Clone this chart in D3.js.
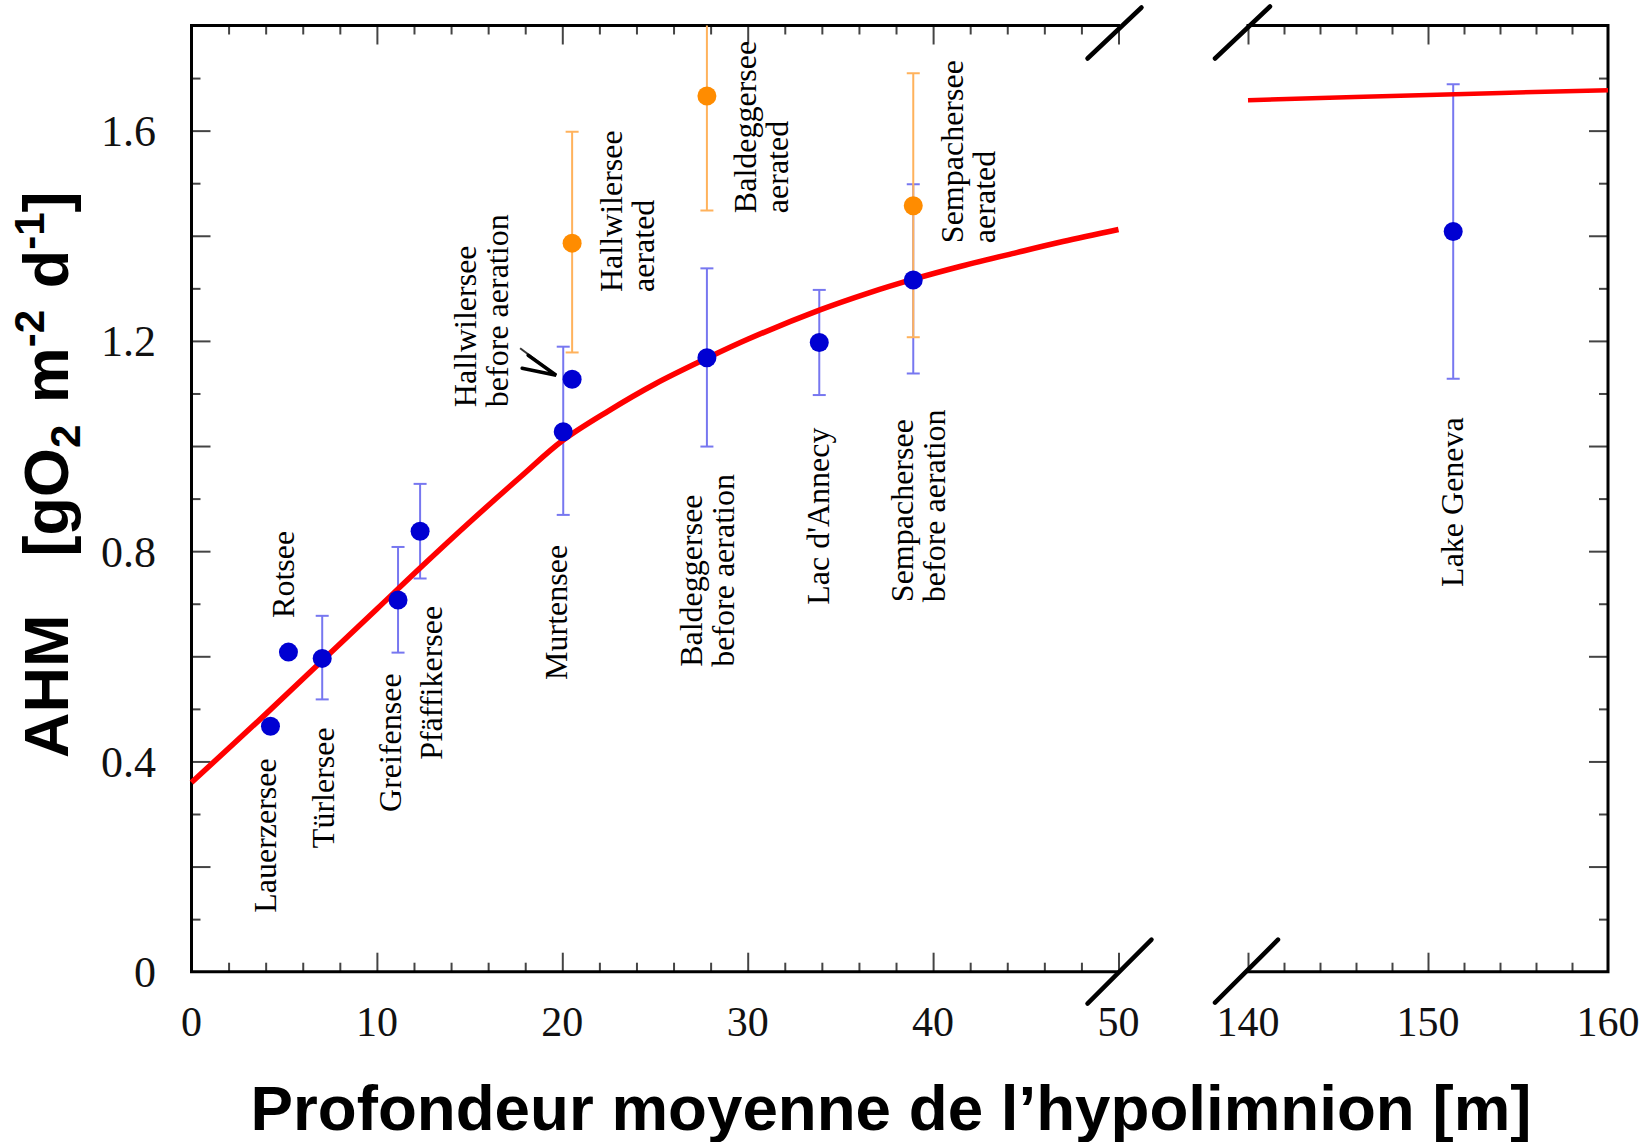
<!DOCTYPE html>
<html><head><meta charset="utf-8">
<script src="https://cdn.jsdelivr.net/npm/d3@7"></script>
<style>html,body{margin:0;padding:0;background:#fff} svg{display:block}</style>
</head><body>
<svg id="chart" width="1650" height="1142"></svg>
<script>
// ---------- data ----------
// lakes before aeration (blue)
const beforeNames = ["Lauerzersee","Rotsee","Türlersee","Greifensee","Pfäffikersee","Murtensee","Hallwilersee","Baldeggersee","Lac d'Annecy","Sempachersee","Lake Geneva"];
const beforeDepth = [4.26, 5.23, 7.05, 11.14, 12.33, 20.05, 20.53, 27.8, 33.86, 38.93, 151.4];
const beforeAHM   = [0.467, 0.608, 0.596, 0.707, 0.838, 1.027, 1.127, 1.168, 1.197, 1.316, 1.408];
const beforeLow   = [null, null, 0.518, 0.607, 0.748, 0.869, null, 0.999, 1.097, 1.138, 1.128];
const beforeHigh  = [null, null, 0.677, 0.808, 0.928, 1.189, null, 1.338, 1.297, 1.498, 1.688];
// aerated lakes (orange)
const aeratedNames = ["Hallwilersee","Baldeggersee","Sempachersee"];
const aeratedDepth = [20.53, 27.8, 38.93];
const aeratedAHM   = [1.386, 1.666, 1.457];
const aeratedLow   = [1.178, 1.448, 1.207];
const aeratedHigh  = [1.598, 1.88, 1.709];
// fitted curve (red), left panel and right panel
const curveDepthLeft = [0, 4, 7, 10, 12.3, 15, 17.8, 20, 22.5, 25, 27.8, 30, 33.9, 36.5, 38.9, 41.5, 44.5, 47, 50];
const curveAHMLeft   = [0.36, 0.49, 0.59, 0.69, 0.767, 0.855, 0.943, 1.01, 1.067, 1.118, 1.167, 1.203, 1.259, 1.291, 1.317, 1.342, 1.368, 1.389, 1.412];
const curveDepthRight = [140, 150, 160];
const curveAHMRight   = [1.658, 1.668, 1.677];
// tick labels
const xLeftTickLabels  = [0, 10, 20, 30, 40, 50];
const xRightTickLabels = [140, 150, 160];
const yTickLabels = [0, 0.4, 0.8, 1.2, 1.6];
// point labels (rotated): text lines, depth / AHM of the start of the first line
const labelLines = [["Lauerzersee"],["Rotsee"],["Türlersee"],["Greifensee"],["Pfäffikersee"],["Murtensee"],
  ["Baldeggersee","before aeration"],["Lac d'Annecy"],["Sempachersee","before aeration"],
  ["Hallwilersee","before aeration"],["Hallwilersee","aerated"],["Baldeggersee","aerated"],["Sempachersee","aerated"],["Lake Geneva"]];
const labelDepth = [4.56, 5.53, 7.66, 11.30, 13.51, 20.25, 27.53, 34.39, 38.91, 15.35, 23.22, 30.45, 41.61, 151.94];
const labelAHM   = [0.112, 0.673, 0.235, 0.304, 0.403, 0.555, 0.580, 0.698, 0.703, 1.074, 1.293, 1.443, 1.386, 0.732];

// ---------- layout ----------
const svg = d3.select("#chart");
const yTop = 25.5, yBot = 971.7;
const y  = d3.scaleLinear().domain([0, 1.8]).range([yBot, yTop]);
const xL = d3.scaleLinear().domain([0, 50]).range([191.5, 1118.5]);
const xR = d3.scaleLinear().domain([140, 160]).range([1248, 1608]);
const xAny = v => v >= 100 ? xR(v) : xL(v);

const defs = svg.append("defs");
defs.append("clipPath").attr("id","clipL").append("rect")
  .attr("x", xL(0)).attr("y", yTop).attr("width", xL(50)-xL(0)).attr("height", yBot-yTop);
defs.append("clipPath").attr("id","clipR").append("rect")
  .attr("x", xR(140)).attr("y", yTop).attr("width", xR(160)-xR(140)).attr("height", yBot-yTop);

const serif = "'Liberation Serif','Times New Roman',serif";
const sans = "'Liberation Sans',Arial,sans-serif";

// ---------- ticks ----------
const tickCol = "#444";
function xTicks(scale, vals, major){
  ["bottom","top"].forEach(side=>{
    const gen = side==="bottom" ? d3.axisBottom(scale) : d3.axisTop(scale);
    const g = svg.append("g").attr("transform", `translate(0,${side==="bottom"?yBot:yTop})`)
      .call(gen.tickValues(vals).tickFormat("").tickSizeOuter(0).tickSize(0));
    g.select(".domain").remove();
    g.selectAll(".tick line")
      .attr("y2", d => (side==="bottom"?-1:1) * (major(d) ? 19 : 9))
      .attr("stroke", tickCol).attr("stroke-width", 2);
  });
}
xTicks(xL, d3.range(2, 51, 2), d => d % 10 === 0);
xTicks(xR, d3.range(140, 160, 2), d => d % 10 === 0);
const yTickVals = d3.range(1, 18).map(i => i/10);
[["left", xL(0)], ["right", xR(160)]].forEach(([side, xp])=>{
  const gen = side==="left" ? d3.axisLeft(y) : d3.axisRight(y);
  const g = svg.append("g").attr("transform", `translate(${xp},0)`)
    .call(gen.tickValues(yTickVals).tickFormat("").tickSize(0));
  g.select(".domain").remove();
  g.selectAll(".tick line")
    .attr("x2", d => (side==="left"?1:-1) * (Math.round(d*10) % 2 === 0 ? 19 : 9))
    .attr("stroke", tickCol).attr("stroke-width", 2);
});

// ---------- frame ----------
const frame = svg.append("g").attr("stroke","#000").attr("stroke-width",3).attr("fill","none").attr("stroke-linecap","square");
frame.append("path").attr("d", `M${xL(50)},${yTop} H${xL(0)} V${yBot} H${xL(50)}`);
frame.append("path").attr("d", `M${xR(140)},${yTop} H${xR(160)} V${yBot} H${xR(140)}`);
// break marks
const brk = svg.append("g").attr("stroke","#000").attr("stroke-width",4.5).attr("stroke-linecap","round");
[[xL(50), yTop, -31, 33, 23, -18], [xL(50), yBot, -31, 32, 33, -32],
 [xR(140), yTop, -33, 33, 22, -19], [xR(140), yBot, -33, 31, 30, -32]].forEach(([cx, cy, ax, ay, bx, by])=>{
  brk.append("line").attr("x1", cx+ax).attr("y1", cy+ay).attr("x2", cx+bx).attr("y2", cy+by);
});

// ---------- tick labels ----------
const tl = svg.append("g").attr("font-family", serif).attr("fill","#111");
xLeftTickLabels.forEach(v => tl.append("text").attr("font-size", 42).attr("x", xL(v)).attr("y", 1036).attr("text-anchor","middle").text(v));
xRightTickLabels.forEach(v => tl.append("text").attr("font-size", 42).attr("x", xR(v)).attr("y", 1036).attr("text-anchor","middle").text(v));
yTickLabels.forEach(v => tl.append("text").attr("font-size", 44).attr("x", 156).attr("y", y(v)).attr("dy","0.35em").attr("text-anchor","end").text(v===0?"0":v.toFixed(1)));

// ---------- error bars ----------
function errorBars(xs, lows, highs, color){
  const g = svg.append("g").attr("stroke", color).attr("stroke-width", 2).attr("fill","none");
  xs.forEach((xv, i) => {
    if (lows[i] == null) return;
    const px = xAny(xv);
    const gg = g.append("g").attr("clip-path", xv >= 100 ? "url(#clipR)" : "url(#clipL)");
    gg.append("line").attr("x1", px).attr("x2", px).attr("y1", y(lows[i])).attr("y2", y(highs[i]));
    gg.append("line").attr("x1", px-6.5).attr("x2", px+6.5).attr("y1", y(lows[i])).attr("y2", y(lows[i]));
    gg.append("line").attr("x1", px-6.5).attr("x2", px+6.5).attr("y1", y(highs[i])).attr("y2", y(highs[i]));
  });
}
errorBars(beforeDepth, beforeLow, beforeHigh, "#7777f0");
errorBars(aeratedDepth, aeratedLow, aeratedHigh, "#ffb25c");

// ---------- fitted curve ----------
const lineL = d3.line().x(d => xL(d[0])).y(d => y(d[1])).curve(d3.curveCatmullRom.alpha(0.5));
const lineR = d3.line().x(d => xR(d[0])).y(d => y(d[1])).curve(d3.curveCatmullRom.alpha(0.5));
svg.append("path").attr("d", lineL(d3.zip(curveDepthLeft, curveAHMLeft)))
  .attr("fill","none").attr("stroke","#ff0000").attr("stroke-width",5.5);
svg.append("path").attr("d", lineR(d3.zip(curveDepthRight, curveAHMRight)))
  .attr("fill","none").attr("stroke","#ff0000").attr("stroke-width",4.5);

// ---------- points ----------
svg.append("g").selectAll("circle").data(d3.zip(aeratedDepth, aeratedAHM)).join("circle")
  .attr("cx", d => xAny(d[0])).attr("cy", d => y(d[1])).attr("r", 9.5).attr("fill", "#ff8c00");
svg.append("g").selectAll("circle").data(d3.zip(beforeDepth, beforeAHM)).join("circle")
  .attr("cx", d => xAny(d[0])).attr("cy", d => y(d[1])).attr("r", 9.5).attr("fill", "#0000d2");

// ---------- arrow to Hallwilersee before aeration ----------
const hi = beforeNames.indexOf("Hallwilersee");
const ax = xAny(beforeDepth[hi]) - 16, ay = y(beforeAHM[hi]) - 4;
svg.append("path").attr("d", `M${ax-36},${ay-27} L${ax},${ay}`).attr("stroke","#333").attr("stroke-width",2).attr("fill","none");
svg.append("path").attr("d", `M${ax-28},${ay-20} L${ax},${ay} L${ax-34},${ay-7}`)
  .attr("stroke","#000").attr("stroke-width",3.5).attr("fill","none").attr("stroke-linejoin","miter").attr("stroke-linecap","round");

// ---------- point labels ----------
const lab = svg.append("g").attr("font-family", serif).attr("font-size", 32).attr("fill","#000");
labelLines.forEach((lines, i) => {
  const px = xAny(labelDepth[i]), py = y(labelAHM[i]);
  const t = lab.append("text").attr("transform", `translate(${px},${py}) rotate(-90)`);
  lines.forEach((s, j) => t.append("tspan").attr("x", 0).attr("y", j * 32).text(s));
});

// ---------- axis titles ----------
svg.append("text").attr("x", 891).attr("y", 1130).attr("text-anchor","middle")
  .attr("font-family", sans).attr("font-weight","bold").attr("font-size", 63)
  .attr("textLength", 1281).attr("lengthAdjust","spacingAndGlyphs")
  .text("Profondeur moyenne de l\u2019hypolimnion [m]");

const yt = svg.append("text").attr("transform", "translate(68,758) rotate(-90)")
  .attr("font-family", sans).attr("font-weight","bold").attr("font-size", 63);
yt.append("tspan").text("AHM");
yt.append("tspan").attr("dx", 58).text("[gO");
yt.append("tspan").attr("font-size", 42).attr("dy", 12).text("2");
yt.append("tspan").attr("dy", -12).attr("dx", 4).text(" m");
yt.append("tspan").attr("font-size", 42).attr("dy", -24).text("-2");
yt.append("tspan").attr("dy", 24).attr("dx", 4).text(" d");
yt.append("tspan").attr("font-size", 42).attr("dy", -24).text("-1");
yt.append("tspan").attr("dy", 24).text("]");
</script>
</body></html>
